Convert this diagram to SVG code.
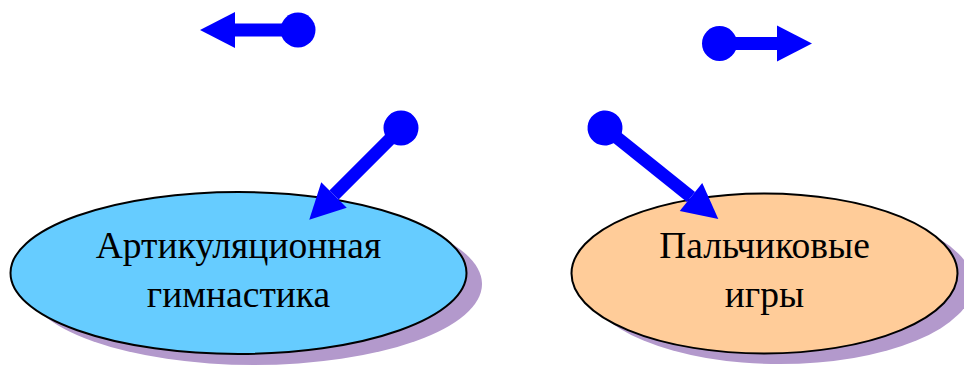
<svg xmlns="http://www.w3.org/2000/svg" width="964" height="365" viewBox="0 0 964 365">
<style>
.shadow{fill:#b399cc;stroke:none}
.node{stroke:#000;stroke-width:2}
.lbl{font-family:"Liberation Serif","Times New Roman",serif;font-size:37.5px;fill:#000;text-anchor:middle}
.conn{stroke:#0000ff;stroke-width:13;fill:none;marker-start:url(#dot);marker-end:url(#head)}
</style>
<defs>
<marker id="head" markerUnits="userSpaceOnUse" markerWidth="40" markerHeight="40" refX="0" refY="18" orient="auto" overflow="visible">
<path d="M0,0 L35,18 L0,36 Z" fill="#0000ff"/>
</marker>
<marker id="dot" markerUnits="userSpaceOnUse" markerWidth="40" markerHeight="40" refX="18" refY="18" orient="auto" overflow="visible">
<circle cx="18" cy="18" r="17.5" fill="#0000ff"/>
</marker>
</defs>
<rect width="964" height="365" fill="#fff"/>
<g id="node-articulation">
<ellipse class="shadow" cx="254" cy="284" rx="228" ry="81"/>
<ellipse class="node" cx="238.5" cy="273" rx="228" ry="81" fill="#66ccff"/>
<text class="lbl" x="238.5" y="258">Артикуляционная</text>
<text class="lbl" x="238.5" y="307">гимнастика</text>
</g>
<g id="node-finger">
<ellipse class="shadow" cx="780" cy="284" rx="193" ry="80"/>
<ellipse class="node" cx="764.5" cy="273.5" rx="193" ry="80" fill="#ffcc99"/>
<text class="lbl" x="764.5" y="258">Пальчиковые</text>
<text class="lbl" x="764.5" y="307">игры</text>
</g>
<g id="connectors">
<line class="conn" x1="298" y1="30" x2="235" y2="30"/>
<line class="conn" x1="719.5" y1="43.5" x2="777" y2="43.5"/>
<line class="conn" x1="401" y1="128" x2="334" y2="195"/>
<line class="conn" x1="605" y1="128" x2="691" y2="197"/>
</g>
</svg>
